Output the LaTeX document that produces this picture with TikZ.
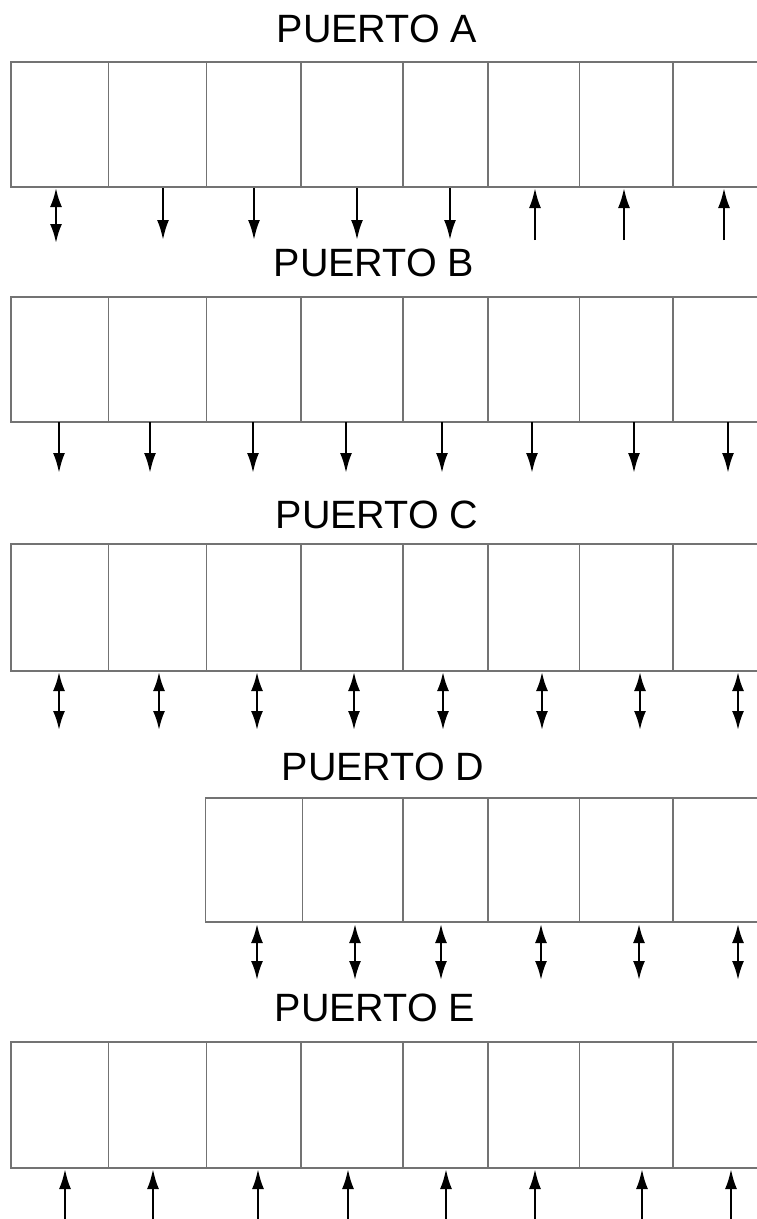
\documentclass[tikz,border=0pt]{standalone}
\usepackage{fontspec}
\setmainfont{Liberation Sans}
\usetikzlibrary{arrows.meta}
\begin{document}
\begin{tikzpicture}[x=1pt,y=-1pt,
  cell/.style={draw=black!55, line width=1.1pt, rectangle, inner sep=0pt, outer sep=0pt, anchor=north west},
  title/.style={font=\fontsize{39.5}{42}\selectfont, anchor=base, inner sep=0pt},
  sig/.style={line width=2.4pt, -{Latex[length=20pt,width=12pt]}},
  dbl/.style={line width=2.4pt, {Latex[length=19pt,width=12pt]}-{Latex[length=19pt,width=12pt]}}]
\useasboundingbox[fill=white] (0,0) rectangle (757,1219);

% titles
\node[title] (tA) at (377,42) {PUERTO A};
\node[title] (tB) at (374,276.5) {PUERTO B};
\node[title] (tC) at (377,528) {PUERTO C};
\node[title] (tD) at (383,780.5) {PUERTO D};
\node[title] (tE) at (375,1021.5) {PUERTO E};

% registers
\foreach \row/\top/\h in {A/62/125, B/297/125, C/544/127, E/1042/126}{
  \foreach \l/\r [count=\i] in {11/108.5, 108.5/206.5, 206.5/301, 301/403, 403/488, 488/579.5, 579.5/673, 673/790}{
    \pgfmathsetmacro{\w}{\r-\l}
    \node[cell, minimum width=\w pt, minimum height=\h pt] (\row\i) at (\l,\top) {};
  }
}
\foreach \l/\r [count=\i] in {205.7/302.7, 302.7/403, 403/488, 488/579.5, 579.5/673, 673/790}{
  \pgfmathsetmacro{\w}{\r-\l}
  \node[cell, minimum width=\w pt, minimum height=124pt] (D\i) at (\l,798) {};
}

% PUERTO A
\foreach \x in {56}{
  \coordinate (As\x) at (\x,188); \coordinate (Ae\x) at (\x,243);
  \draw[dbl] (As\x) -- (Ae\x);}
\foreach \x in {163,254,357,450}{
  \coordinate (As\x) at (\x,188); \coordinate (Ae\x) at (\x,240);
  \draw[sig] (As\x) -- (Ae\x);}
\foreach \x in {535,624,724}{
  \coordinate (As\x) at (\x,188); \coordinate (Ae\x) at (\x,240);
  \draw[sig] (Ae\x) -- (As\x);}

% PUERTO B
\foreach \x in {59,150,253,346,442,532,634,728}{
  \coordinate (Bs\x) at (\x,422); \coordinate (Be\x) at (\x,473);
  \draw[sig] (Bs\x) -- (Be\x);}

% PUERTO C
\foreach \x in {59,159,257,354,443,542,640,738}{
  \coordinate (Cs\x) at (\x,672); \coordinate (Ce\x) at (\x,730);
  \draw[dbl] (Cs\x) -- (Ce\x);}

% PUERTO D
\foreach \x in {257,355,441,541,639,738}{
  \coordinate (Ds\x) at (\x,924); \coordinate (De\x) at (\x,980);
  \draw[dbl] (Ds\x) -- (De\x);}

% PUERTO E
\foreach \x in {65,153,258,348,446,535,642,731}{
  \coordinate (Es\x) at (\x,1169); \coordinate (Ee\x) at (\x,1219);
  \draw[sig] (Ee\x) -- (Es\x);}
\end{tikzpicture}
\end{document}
